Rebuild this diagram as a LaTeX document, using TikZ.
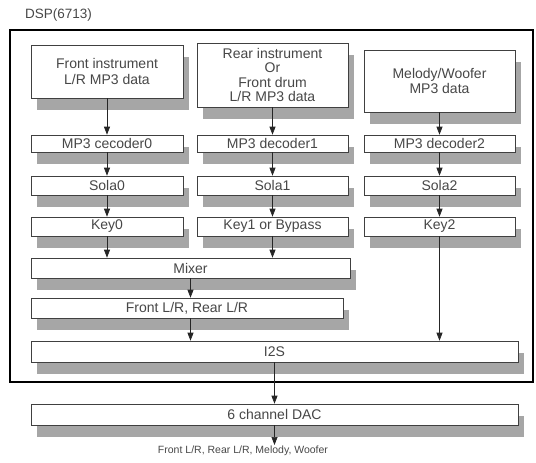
\documentclass[tikz,border=0pt]{standalone}
\usepackage{fontspec}
\setmainfont{Liberation Sans}
\usetikzlibrary{shadows,arrows.meta}
\begin{document}
\begin{tikzpicture}[x=1pt,y=-1pt,
  blk/.style={draw=black!75, line width=0.6pt, fill=white, inner sep=0pt,
    align=center, text=black!72, font=\fontsize{14}{15.5}\selectfont,
    drop shadow={shadow xshift=6pt, shadow yshift=-12pt, fill=black!35, opacity=1}},
  arr/.style={draw=black!85, line width=0.7pt, -{Triangle[length=8pt,width=6pt]}},
  frame/.style={draw=black, line width=2pt},
  lbl/.style={text=black!72, inner sep=0pt},
]
\useasboundingbox (0,0) rectangle (536,463);

% DSP enclosure
\draw[frame] (10,30) rectangle (533,382);
\node[lbl, anchor=west, font=\fontsize{13.5}{15}\selectfont] (dsplabel) at (25,15) {DSP(6713)};

% input data blocks
\node[blk, minimum width=152pt, minimum height=53pt] (front) at (107,71.5)
  {Front instrument\\L/R MP3 data};
\node[blk, minimum width=151pt, minimum height=64pt,
  font=\fontsize{14}{14.6}\selectfont] (rear) at (272.5,75)
  {Rear instrument\\Or\\Front drum\\L/R MP3 data};
\node[blk, minimum width=151pt, minimum height=62pt] (melody) at (439.5,81)
  {Melody/Woofer\\MP3 data};

% decoders
\node[blk, minimum width=152pt, minimum height=17pt] (dec0) at (107,143.5) {MP3 cecoder0};
\node[blk, minimum width=151pt, minimum height=17pt] (dec1) at (272.5,143.5) {MP3 decoder1};
\node[blk, minimum width=151pt, minimum height=17pt] (dec2) at (439.5,143.5) {MP3 decoder2};

% Sola stages
\node[blk, minimum width=152pt, minimum height=19pt] (sola0) at (107,185.5) {Sola0};
\node[blk, minimum width=151pt, minimum height=19pt] (sola1) at (272.5,185.5) {Sola1};
\node[blk, minimum width=151pt, minimum height=19pt] (sola2) at (439.5,185.5) {Sola2};

% key stages
\node[blk, minimum width=152pt, minimum height=19pt] (key0) at (107,226.5) {Key0};
\node[blk, minimum width=151pt, minimum height=19pt] (key1) at (272.5,226.5) {Key1 or Bypass};
\node[blk, minimum width=151pt, minimum height=19pt] (key2) at (439.5,226.5) {Key2};

% mixing and output stages
\node[blk, minimum width=319pt, minimum height=20pt] (mixer) at (190.5,268) {Mixer};
\node[blk, minimum width=312pt, minimum height=20pt] (flr) at (187,308) {Front L/R, Rear L/R};
\node[blk, minimum width=487pt, minimum height=21pt] (i2s) at (274.5,351.5) {I2S};
\node[blk, minimum width=487pt, minimum height=21pt] (dac) at (274.5,414.5) {6 channel DAC};
\node[lbl, font=\fontsize{10.5}{12}\selectfont] (out) at (243,451)
  {Front L/R, Rear L/R, Melody, Woofer};
\coordinate (outtip) at (274.5,445);

% signal flow
\draw[arr] (front) -- (dec0);
\draw[arr] (rear) -- (dec1);
\draw[arr] (melody) -- (dec2);
\draw[arr] (dec0) -- (sola0);
\draw[arr] (dec1) -- (sola1);
\draw[arr] (dec2) -- (sola2);
\draw[arr] (sola0) -- (key0);
\draw[arr] (sola1) -- (key1);
\draw[arr] (sola2) -- (key2);
\draw[arr] (key0.south) -- (key0.south |- mixer.north);
\draw[arr] (key1.south) -- (key1.south |- mixer.north);
\draw[arr] (mixer.south) -- (mixer.south |- flr.north);
\draw[arr] (flr.south -| mixer.south) -- (mixer.south |- i2s.north);
\draw[arr] (key2.south) -- (key2.south |- i2s.north);
\draw[arr] (i2s) -- (dac);
\draw[arr] (dac.south) -- (outtip);
\end{tikzpicture}
\end{document}
